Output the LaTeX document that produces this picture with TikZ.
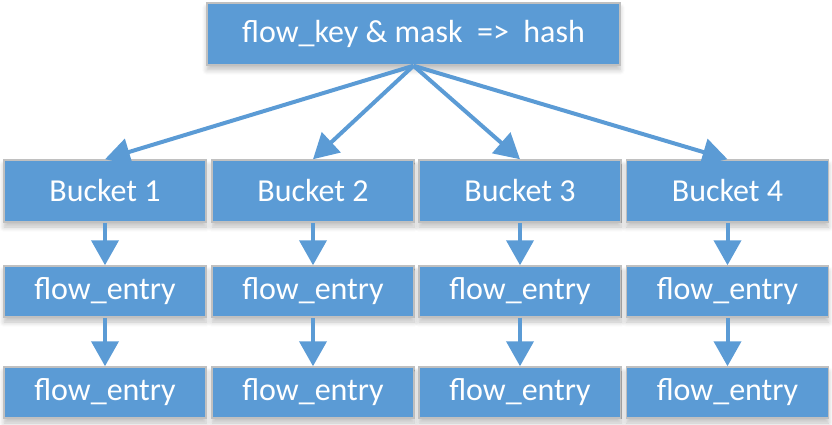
\documentclass[tikz,border=0pt]{standalone}
\usepackage{fontspec}
\setmainfont{Carlito}
\usetikzlibrary{arrows.meta,shadows.blur}
\definecolor{boxblue}{HTML}{5B9BD5}
\definecolor{boxedge}{HTML}{C0C0C0}
\tikzset{
  box/.style={draw=boxedge, line width=1.5pt, fill=boxblue, text=white,
    minimum width=202pt, inner sep=0pt, font=\fontsize{32}{38}\selectfont,
    blur shadow={shadow xshift=0pt, shadow yshift=-5pt, shadow blur steps=6, shadow opacity=25, shadow blur radius=5pt}},
  bucketbox/.style={box, minimum height=62pt},
  entrybox/.style={box, minimum height=51pt},
  link/.style={draw=boxblue, line width=4pt, -{Triangle[width=27pt,length=25pt]}}
}
\begin{document}
\begin{tikzpicture}[x=1pt,y=-1pt]
\useasboundingbox (0,0) rectangle (832,425);
\node[box, minimum width=413pt, minimum height=62pt] (top) at (413.5,34) {flow\_key \& mask\ \ =>\ \ hash};
\foreach \i/\x in {1/105,2/313,3/520,4/727.5}{
  \node[bucketbox] (b\i) at (\x,191) {Bucket \i};
  \node[entrybox] (e\i) at (\x,291.5) {flow\_entry};
  \node[entrybox] (f\i) at (\x,392.5) {flow\_entry};
}
\foreach \i in {1,2,3,4}{
  \draw[link] (top.south) -- (b\i.north);
  \draw[link] (b\i.south) -- (e\i.north);
  \draw[link] (e\i.south) -- (f\i.north);
}
\end{tikzpicture}
\end{document}
